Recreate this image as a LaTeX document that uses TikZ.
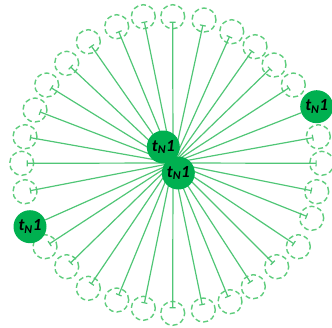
\documentclass[tikz,border=0pt]{standalone}
\usepackage{fontspec}
\setmainfont{Carlito}
\usepackage{tikz}
\usetikzlibrary{arrows.meta}
\definecolor{ringgreen}{RGB}{95,205,125}
\definecolor{spokegreen}{RGB}{80,198,118}
\definecolor{tokengreen}{RGB}{0,176,80}
\newcommand{\tok}{\bfseries\itshape t\textsubscript{N}1}
\tikzset{
  slot/.style={circle,draw=ringgreen,line width=1.4pt,dash pattern=on 5pt off 3pt,
               minimum size=24pt,inner sep=0pt},
  token/.style={circle,fill=tokengreen,minimum size=33pt,inner sep=0pt,
                font=\fontsize{17}{17}\selectfont},
  spoke/.style={spokegreen,line width=1.2pt,-{Bar[width=6pt]},shorten >=5pt},
}

\begin{document}
\begin{tikzpicture}[x=1pt,y=-1pt]
  \useasboundingbox (0,0) rectangle (332,327);

  % dashed slots round the ring
  \foreach \x/\y [count=\i] in {172.7/16.7, 204/20, 231.7/31.7, 255/46.7, 274/65, 293.3/85,
      318.3/136.7, 321.7/163.3, 316.7/191.7, 311.7/218.3, 298.3/246.7, 276.7/266.7,
      253.3/286.7, 230/301.7, 203.3/310, 172.7/313.3, 143.3/308.3, 116.7/300, 88.3/288.3,
      66.7/266.7, 45/246.7, 25/191.7, 21.7/163.3, 25/136.7, 35/110, 46.7/85, 66.7/63.3,
      88.3/41.7, 116.7/26.7, 143.3/16.7}
    \node[slot] (r\i) at (\x,\y) {};

  % occupied slots
  \node[token] (occright) at (316.7,106.7) {\tok};
  \node[token] (occleft) at (30,226.7) {\tok};

  \coordinate (hub) at (173,163);
  \foreach \i in {1,...,30}
    \draw[spoke] (hub) -- (r\i.center);
  \draw[spokegreen,line width=1.2pt] (hub) -- (occright);
  \draw[spokegreen,line width=1.2pt] (hub) -- (occleft);

  % tokens at the centre
  \node[token] (first) at (163.3,147) {\tok};
  \node[token] (second) at (178.3,173) {\tok};
\end{tikzpicture}
\end{document}
